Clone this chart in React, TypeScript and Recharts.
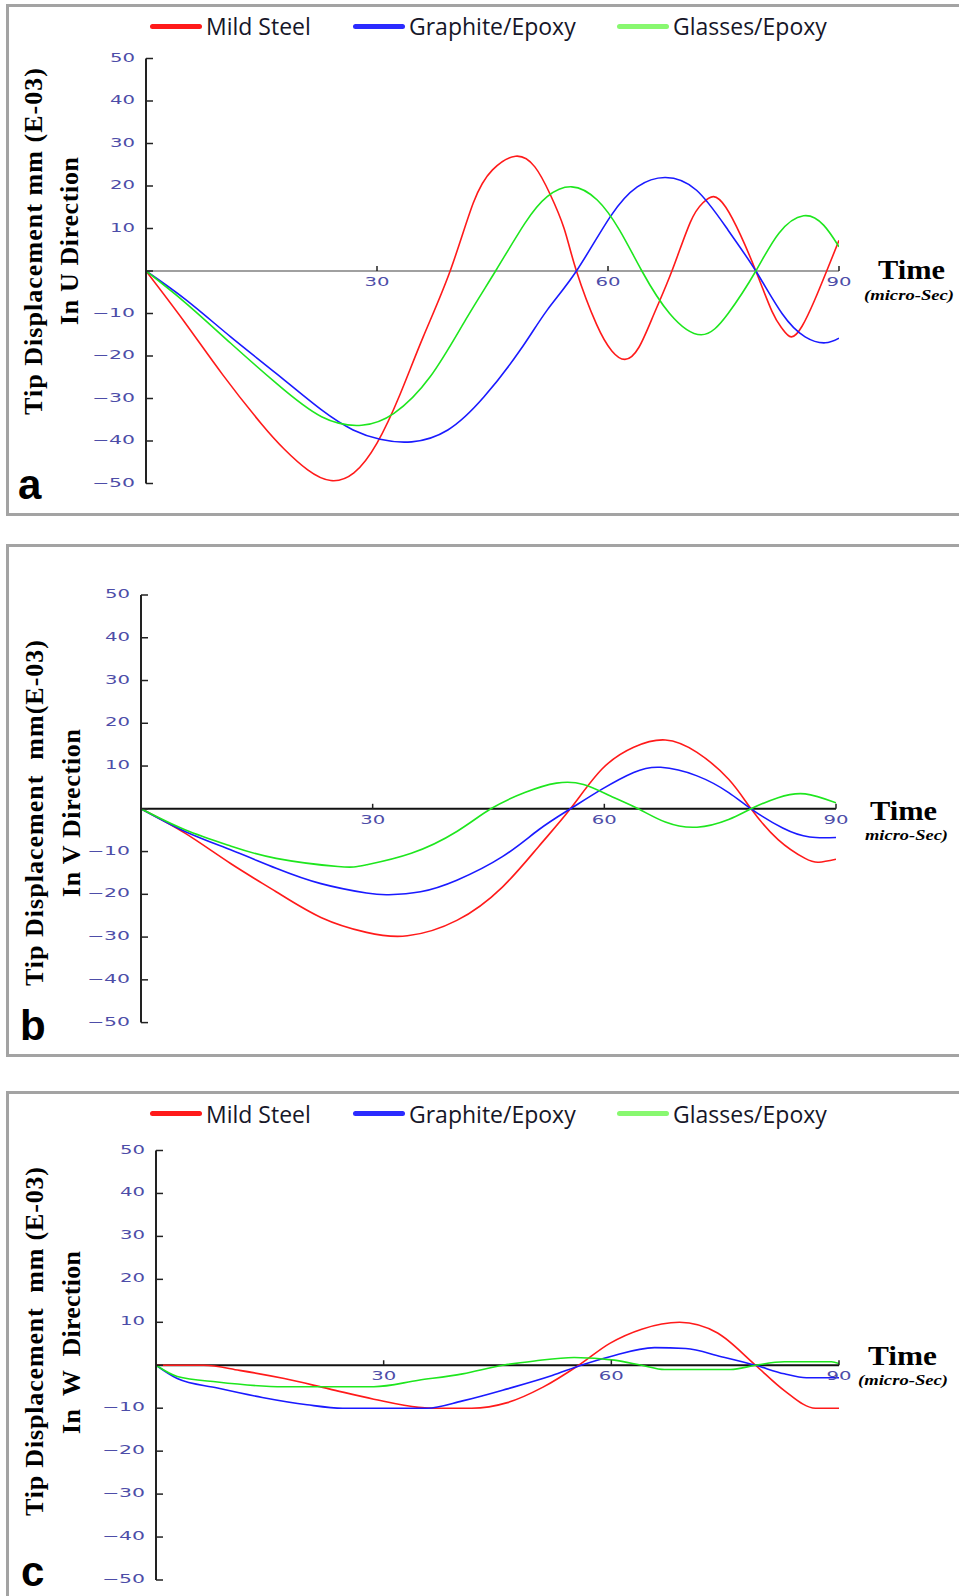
import React from "react";
import {
  Legend,
  Line,
  LineChart,
  ReferenceDot,
  ReferenceLine,
  XAxis,
  YAxis,
} from "recharts";

type Pt = [number, number];

// series + colours
const SERIES_NAMES = ["Mild Steel", "Graphite/Epoxy", "Glasses/Epoxy"];
const SERIES_COLORS = ["#ff1a1a", "#1a1aff", "#1ee61e"];
const LEGEND_COLORS = ["#ff1a1a", "#2b2bff", "#88f870"];

// axes
const Y_TICKS = [-50, -40, -30, -20, -10, 0, 10, 20, 30, 40, 50];
const X_TICKS = [30, 60, 90];
const X_DOMAIN: [number, number] = [0, 90];
const Y_DOMAIN: [number, number] = [-50, 50];

// (a) U direction — [time, displacement]
const U_STEEL: Pt[] = [
  [0, 0], [5, -12], [10, -24.5], [15, -36], [18, -42], [21, -46.8], [24, -49.3],
  [27, -47.5], [30, -40.5], [33, -29], [36, -15.5], [39.5, 0], [42.5, 16],
  [45, 23.8], [48, 27], [50.5, 24.5], [52.5, 18], [54.3, 10], [55.9, 0],
  [58.5, -12.5], [60.5, -18.8], [62.2, -20.8], [64, -18], [66, -10], [68.3, 0],
  [70.7, 11.5], [72.3, 16], [73.7, 17.5], [75.3, 15], [77.2, 8.5], [79.2, 0],
  [81.3, -9.5], [82.6, -13.5], [83.8, -15.5], [85.2, -13], [86.8, -7], [88.4, 0],
  [90, 7.2],
];
const U_GRAPHITE: Pt[] = [
  [0, 0], [5.2, -6.8], [11, -15.5], [16.9, -24.1], [22.8, -32.7], [26.9, -37.4],
  [30.4, -39.6], [34.5, -40.2], [39.2, -37.4], [43.9, -29.6], [48.6, -18.6],
  [52.1, -9.2], [55.9, 0], [60.3, 12.8], [63.8, 19.8], [67.4, 22], [71.5, 19],
  [75.6, 9.6], [79.2, 0], [82.6, -10], [85.6, -15.5], [88.2, -16.9], [90, -15.8],
];
const U_GLASS: Pt[] = [
  [0, 0], [5.2, -7.6], [11, -17], [16.9, -26.4], [22.8, -34.3], [28, -36.3],
  [32.2, -33.5], [36.9, -24.9], [41.5, -11.5], [45.4, 0], [49.2, 11.2], [52.1, 17.5],
  [55.3, 19.8], [58.6, 16.7], [61.5, 9.6], [64.4, 0], [68, -10], [72.1, -15],
  [75.6, -10], [79.2, 0], [82.2, 8.9], [85.4, 13], [88, 10.8], [90, 5.7],
];

// (b) V direction
const V_STEEL: Pt[] = [
  [0, 0], [5.7, -5.7], [11.6, -12.8], [17.5, -19.4], [23.3, -25.4], [29.2, -28.9],
  [34.5, -29.7], [40.9, -26.1], [46.8, -18.3], [51.5, -8.8], [55.6, 0], [59.7, 9.3],
  [63.8, 14.4], [67.9, 16.1], [72, 13.2], [76.1, 6.9], [79, 0], [82.5, -7.2],
  [86, -11.6], [87.8, -12.5], [90, -11.8],
];
const V_GRAPHITE: Pt[] = [
  [0, 0], [5.7, -5.3], [11.6, -9.6], [17.5, -13.9], [23.3, -17.5], [29.2, -19.7],
  [32.1, -20.1], [36.2, -19.4], [40.9, -16.7], [46.8, -11.2], [51.5, -4.9], [55.6, 0],
  [59.7, 4.6], [63.8, 8.5], [67.3, 9.7], [72, 7.7], [76.1, 3.8], [79, 0],
  [83.1, -4.5], [86.6, -6.6], [90, -6.7],
];
const V_GLASS: Pt[] = [
  [0, 0], [5.7, -4.9], [11.6, -8.7], [17.5, -11.6], [25.5, -13.5], [29.2, -13.1],
  [35, -10.4], [40.9, -5.3], [45.3, 0], [49.7, 3.8], [53.8, 6], [57.3, 5.7],
  [60.8, 3], [64.4, 0], [67.9, -3.1], [72, -4.3], [76.1, -2.5], [79, 0],
  [82.5, 2.6], [86, 3.5], [90, 1.4],
];

// (c) W direction
const W_STEEL: Pt[] = [
  [0, 0], [6.3, 0], [11, -1.2], [16.9, -3.1], [22.8, -5.5], [28.7, -7.9],
  [34.6, -9.8], [37, -10], [41.6, -10], [46.3, -8.7], [51, -5.1], [55.7, 0],
  [59.8, 5.1], [64, 8.4], [69, 10], [74, 7.5], [79, 0], [82.8, -5.9],
  [86.9, -10], [90, -10],
];
const W_GRAPHITE: Pt[] = [
  [0, 0], [2.8, -3.1], [8.1, -5.3], [14, -7.5], [19.9, -9.2], [24.6, -10],
  [35.7, -10], [40.4, -8.3], [46.3, -5.5], [52.2, -2.4], [56, 0], [59.8, 2],
  [65.7, 4.1], [69.8, 3.9], [74.5, 2], [79, 0], [82.8, -2], [85.7, -2.9], [90, -2.9],
];
const W_GLASS: Pt[] = [
  [0, 0], [2.8, -2.6], [8.1, -3.9], [16.9, -5], [28.7, -5], [34.6, -3.5],
  [40.4, -2], [45.7, 0], [49.9, 1], [55.1, 1.8], [60.4, 1.2], [64, 0], [67, -1],
  [75.7, -1], [79, 0], [82.8, 0.8], [89, 0.8], [90, 0.4],
];

const TICK_COLOR = "#4d4da8";
const AXIS_COLOR = "#222";
const SERIF = "'Liberation Serif', 'Times New Roman', serif";
const SANS = "'Liberation Sans', Arial, sans-serif";
const LEGEND_X = [150, 353, 617];

type PanelCfg = {
  id: string;
  letter: string;
  series: Pt[][];
  curve: "natural" | "monotone";
  top: number;
  height: number;
  margin: { top: number; right: number; bottom: number; left: number };
  legendTop?: number;
  zeroStroke: string;
  zeroWidth: number;
  frameTop: number;
  frameHeight: number;
  titles: [string, string];
  titleX: [number, number];
  titleY: [number, number];
  titleLen: [number, number];
  time: { x: number; y: number; len: number };
  unit: { text: string; x: number; y: number; len: number };
  letterPos: { x: number; y: number };
};

const PANELS: PanelCfg[] = [
  {
    id: "u",
    letter: "a",
    series: [U_STEEL, U_GRAPHITE, U_GLASS],
    curve: "natural",
    top: 0,
    height: 520,
    margin: { top: 58.5, right: 120, bottom: 36.5, left: 86 },
    legendTop: 9,
    zeroStroke: "#808080",
    zeroWidth: 1.5,
    frameTop: 4,
    frameHeight: 512,
    titles: ["Tip Displacement mm (E-03)", "In U Direction"],
    titleX: [42, 78],
    titleY: [241.5, 241],
    titleLen: [347, 168],
    time: { x: 878, y: 279, len: 67 },
    unit: { text: "(micro-Sec)", x: 864, y: 300, len: 90 },
    letterPos: { x: 18, y: 499 },
  },
  {
    id: "v",
    letter: "b",
    series: [V_STEEL, V_GRAPHITE, V_GLASS],
    curve: "natural",
    top: 530,
    height: 530,
    margin: { top: 65, right: 123, bottom: 37.4, left: 81 },
    zeroStroke: "#111",
    zeroWidth: 2,
    frameTop: 544,
    frameHeight: 513,
    titles: ["Tip Displacement  mm(E-03)", "In V Direction"],
    titleX: [43, 80],
    titleY: [813, 813],
    titleLen: [346, 168],
    time: { x: 870, y: 820, len: 67 },
    unit: { text: "micro-Sec)", x: 865, y: 840, len: 83 },
    letterPos: { x: 20, y: 1040 },
  },
  {
    id: "w",
    letter: "c",
    series: [W_STEEL, W_GRAPHITE, W_GLASS],
    curve: "monotone",
    top: 1070,
    height: 526,
    margin: { top: 80.5, right: 120, bottom: 16, left: 96 },
    legendTop: 26.6,
    zeroStroke: "#111",
    zeroWidth: 2,
    frameTop: 1091,
    frameHeight: 600,
    titles: ["Tip Displacement  mm (E-03)", "In  W  Direction"],
    titleX: [43, 80],
    titleY: [1341.5, 1342.5],
    titleLen: [349, 183],
    time: { x: 868, y: 1365, len: 69 },
    unit: { text: "(micro-Sec)", x: 858, y: 1385, len: 90 },
    letterPos: { x: 21, y: 1586 },
  },
];

function toRows(points: Pt[]) {
  return points.map(([t, v]) => ({ t, v }));
}

function tickText(v: number) {
  return v < 0 ? `\u2212${Math.abs(v)}` : String(v);
}

function YTick(props: any) {
  const x = Number(props.x);
  const y = Number(props.y);
  const v = Number(props.payload?.value);
  const label = tickText(v);
  return (
    <g>
      <line x1={x} x2={x + 7} y1={y} y2={y} stroke={AXIS_COLOR} strokeWidth={1.5} />
      {v !== 0 && (
        <text
          x={x - 11}
          y={y}
          dy={3}
          textAnchor="end"
          fill={TICK_COLOR}
          fontFamily="'DejaVu Sans', sans-serif"
          fontSize={12}
          textLength={label.length === 2 ? 25 : 43}
          lengthAdjust="spacingAndGlyphs"
        >
          {label}
        </text>
      )}
    </g>
  );
}

function XTickMark(props: any, label: number) {
  const cx = Number(props.cx);
  const cy = Number(props.cy);
  return (
    <g>
      <line x1={cx} x2={cx} y1={cy} y2={cy - 5} stroke={AXIS_COLOR} strokeWidth={1.5} />
      <text
        x={cx}
        y={cy + 15}
        textAnchor="middle"
        fill={TICK_COLOR}
        fontFamily="'DejaVu Sans', sans-serif"
        fontSize={12}
        textLength={25}
        lengthAdjust="spacingAndGlyphs"
      >
        {label}
      </text>
    </g>
  );
}

function LegendRow() {
  return (
    <div style={{ position: "relative", width: 959, height: 34 }}>
      {SERIES_NAMES.map((name, i) => (
        <div
          key={name}
          style={{
            position: "absolute",
            left: LEGEND_X[i],
            top: 0,
            height: 34,
            display: "flex",
            alignItems: "center",
          }}
        >
          <span
            style={{
              display: "inline-block",
              width: 52,
              height: 5,
              borderRadius: 3,
              background: LEGEND_COLORS[i],
              marginRight: 4,
            }}
          />
          <span
            style={{
              fontFamily: "'Open Sans', sans-serif",
              fontSize: 23,
              lineHeight: "34px",
              color: "#161628",
              whiteSpace: "nowrap",
            }}
          >
            {name}
          </span>
        </div>
      ))}
    </div>
  );
}

function Panel({ cfg }: { cfg: PanelCfg }) {
  return (
    <div style={{ position: "absolute", left: 0, top: cfg.top }}>
      <LineChart width={959} height={cfg.height} margin={cfg.margin}>
        <XAxis type="number" dataKey="t" domain={X_DOMAIN} hide allowDataOverflow />
        <YAxis
          type="number"
          domain={Y_DOMAIN}
          ticks={Y_TICKS}
          interval={0}
          width={60}
          tickSize={0}
          tickMargin={0}
          tickLine={false}
          axisLine={{ stroke: AXIS_COLOR, strokeWidth: 2 }}
          tick={(p: any) => <YTick {...p} />}
        />
        <ReferenceLine y={0} stroke={cfg.zeroStroke} strokeWidth={cfg.zeroWidth} />
        {X_TICKS.map((t) => (
          <ReferenceDot
            key={t}
            x={t}
            y={0}
            r={0}
            shape={(p: any) => XTickMark(p, t)}
          />
        ))}
        {cfg.series.map((pts, i) => (
          <Line
            key={SERIES_NAMES[i]}
            data={toRows(pts)}
            dataKey="v"
            name={SERIES_NAMES[i]}
            type={cfg.curve}
            stroke={SERIES_COLORS[i]}
            strokeWidth={1.6}
            dot={false}
            activeDot={false}
            isAnimationActive={false}
          />
        ))}
        {cfg.legendTop !== undefined && (
          <Legend
            layout="horizontal"
            verticalAlign="middle"
            align="center"
            wrapperStyle={{ top: cfg.legendTop, left: 0, width: 959, height: 34 }}
            content={() => <LegendRow />}
          />
        )}
      </LineChart>
    </div>
  );
}

function Overlay() {
  return (
    <svg
      width={959}
      height={1596}
      style={{ position: "absolute", left: 0, top: 0, pointerEvents: "none" }}
    >
      {PANELS.map((cfg) => (
        <g key={cfg.id}>
          {cfg.titles.map((t, i) => (
            <text
              key={i}
              x={cfg.titleX[i]}
              y={cfg.titleY[i]}
              transform={`rotate(-90 ${cfg.titleX[i]} ${cfg.titleY[i]})`}
              textAnchor="middle"
              fontFamily={SERIF}
              fontWeight="bold"
              fontSize={26}
              textLength={cfg.titleLen[i]}
              lengthAdjust="spacing"
              fill="#000"
              style={{ whiteSpace: "pre" }}
            >
              {t}
            </text>
          ))}
          <text
            x={cfg.time.x}
            y={cfg.time.y}
            fontFamily={SERIF}
            fontWeight="bold"
            fontSize={27}
            textLength={cfg.time.len}
            lengthAdjust="spacingAndGlyphs"
            fill="#000"
          >
            Time
          </text>
          <text
            x={cfg.unit.x}
            y={cfg.unit.y}
            fontFamily={SERIF}
            fontWeight="bold"
            fontStyle="italic"
            fontSize={15}
            textLength={cfg.unit.len}
            lengthAdjust="spacingAndGlyphs"
            fill="#000"
          >
            {cfg.unit.text}
          </text>
          <text
            x={cfg.letterPos.x}
            y={cfg.letterPos.y}
            fontFamily={SANS}
            fontWeight="bold"
            fontSize={42}
            fill="#000"
          >
            {cfg.letter}
          </text>
        </g>
      ))}
    </svg>
  );
}

export default function App() {
  return (
    <div
      style={{
        position: "absolute",
        left: 0,
        top: 0,
        width: 959,
        height: 1596,
        overflow: "hidden",
        background: "#fff",
      }}
    >
      {PANELS.map((cfg) => (
        <div
          key={`frame-${cfg.id}`}
          style={{
            position: "absolute",
            left: 6,
            top: cfg.frameTop,
            width: 1000,
            height: cfg.frameHeight,
            border: "3px solid #a3a3a3",
            boxSizing: "border-box",
          }}
        />
      ))}
      {PANELS.map((cfg) => (
        <Panel key={cfg.id} cfg={cfg} />
      ))}
      <Overlay />
    </div>
  );
}
